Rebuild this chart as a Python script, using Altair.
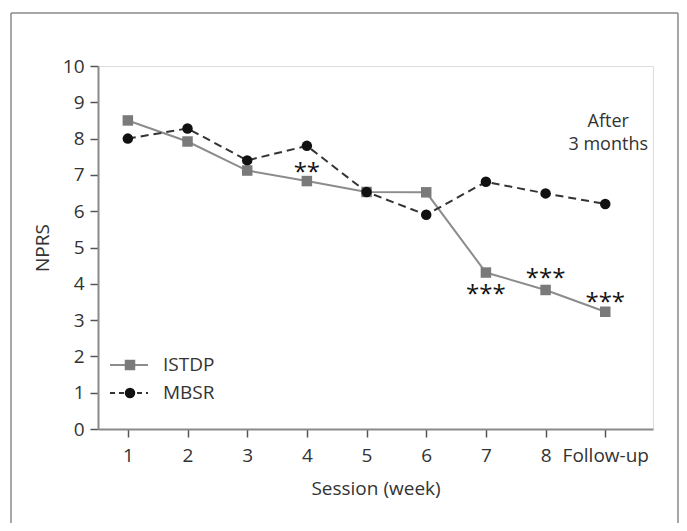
import altair as alt
import pandas as pd

sessions = [1, 2, 3, 4, 5, 6, 7, 8, 9]
tick_labels = ["1", "2", "3", "4", "5", "6", "7", "8", "Follow-up"]
istdp = [8.50, 7.92, 7.12, 6.83, 6.53, 6.52, 4.31, 3.83, 3.23]
mbsr = [8.00, 8.28, 7.40, 7.80, 6.53, 5.90, 6.81, 6.49, 6.20]
series_names = ["ISTDP", "MBSR"]
y_ticks = [0, 1, 2, 3, 4, 5, 6, 7, 8, 9, 10]

star_x = [4, 7, 8, 9]
star_y = [7.23, 3.85, 4.31, 3.64]
star_text = ["**", "***", "***", "***"]

note_x = [9, 9]
note_y = [8.47, 7.82]
note_text = ["After", "3 months"]

FONT = "Open Sans"
TXT = "#333333"

df_i = pd.DataFrame({"session": sessions, "npr": istdp, "label": tick_labels})
df_m = pd.DataFrame({"session": sessions, "npr": mbsr, "label": tick_labels})
df_star = pd.DataFrame({"session": star_x, "npr": star_y, "t": star_text})
df_note = pd.DataFrame({"session": note_x, "npr": note_y, "t": note_text})

label_expr = "datum.value == 9 ? 'Follow-up' : datum.value"

xscale = alt.Scale(domain=[0.5, 9.8], nice=False, zero=False)
yscale = alt.Scale(domain=[0, 10], nice=False)

xenc = alt.X("session:Q", scale=xscale,
             axis=alt.Axis(values=sessions, labelExpr=label_expr, title="Session (week)",
                           grid=False, domainColor="#8a8a8a", domainWidth=2,
                           tickColor="#555555", tickWidth=1.5, tickSize=8,
                           labelFont=FONT, labelFontSize=19, labelColor=TXT, labelPadding=9,
                           labelOverlap=False,
                           titleFont=FONT, titleFontSize=19, titleColor=TXT,
                           titleFontWeight="normal", titlePadding=14, labelFlush=False))
yenc = alt.Y("npr:Q", scale=yscale,
             axis=alt.Axis(values=y_ticks, tickCount=11, title="NPRS", grid=False,
                           domainColor="#8a8a8a", domainWidth=2,
                           tickColor="#555555", tickWidth=1.5, tickSize=8,
                           labelFont=FONT, labelFontSize=19, labelColor=TXT, labelPadding=6,
                           labelOverlap=False, labelFlush=False,
                           titleFont=FONT, titleFontSize=19, titleColor=TXT,
                           titleFontWeight="normal", titlePadding=10))

line_i = alt.Chart(df_i).mark_line(color="#8c8c8c", strokeWidth=2).encode(x=xenc, y=yenc)
pts_i = alt.Chart(df_i).mark_point(shape="square", filled=True, color="#7a7a7a",
                                   size=110, opacity=1).encode(x=xenc, y=yenc)
line_m = alt.Chart(df_m).mark_line(color="#333333", strokeWidth=2,
                                   strokeDash=[8, 5]).encode(x=xenc, y=yenc)
pts_m = alt.Chart(df_m).mark_point(shape="circle", filled=True, color="#111111",
                                   size=110, opacity=1).encode(x=xenc, y=yenc)

stars = alt.Chart(df_star).mark_text(font=FONT, fontSize=24, color="#111111",
                                     baseline="middle", dy=6).encode(
    x=xenc, y=yenc, text="t:N")
notes = alt.Chart(df_note).mark_text(font=FONT, fontSize=18, color=TXT,
                                     baseline="middle", dx=3).encode(
    x=xenc, y=yenc, text="t:N")

one = alt.Data(values=[{"a": 1}])
FR = "#8a8a8a"
frame_top = alt.Chart(one).mark_rule(color=FR, strokeWidth=1.5).encode(
    x=alt.value(-87), x2=alt.value(580), y=alt.value(-53))
frame_left = alt.Chart(one).mark_rule(color=FR, strokeWidth=1.5).encode(
    x=alt.value(-87), y=alt.value(-53), y2=alt.value(470))
frame_right = alt.Chart(one).mark_rule(color=FR, strokeWidth=1.5).encode(
    x=alt.value(580), y=alt.value(-53), y2=alt.value(470))

leg_layers = []
leg_y = [299, 327]
for name, yy in zip(series_names, leg_y):
    if name == "ISTDP":
        r = alt.Chart(one).mark_rule(color="#8c8c8c", strokeWidth=2).encode(
            x=alt.value(12), x2=alt.value(50), y=alt.value(yy))
        p = alt.Chart(one).mark_point(shape="square", filled=True, color="#7a7a7a",
                                      size=110, opacity=1).encode(
            x=alt.value(32), y=alt.value(yy))
    else:
        r = alt.Chart(one).mark_rule(color="#333333", strokeWidth=2,
                                     strokeDash=[5, 4]).encode(
            x=alt.value(12), x2=alt.value(50), y=alt.value(yy))
        p = alt.Chart(one).mark_point(shape="circle", filled=True, color="#111111",
                                      size=110, opacity=1).encode(
            x=alt.value(32), y=alt.value(yy))
    t = alt.Chart(one).mark_text(font=FONT, fontSize=19, color=TXT, align="left",
                                 baseline="middle").encode(
        x=alt.value(65), y=alt.value(yy), text=alt.value(name))
    leg_layers += [r, p, t]

chart = alt.layer(frame_top, frame_left, frame_right, line_i, line_m, pts_i, pts_m,
                  stars, notes, *leg_layers).properties(
    width=555, height=363,
    padding={"left": 90, "top": 58, "right": 26, "bottom": 94},
    autosize=alt.AutoSizeParams(type="none"),
).configure_view(stroke=None).configure(background="white")

chart.save("out.html", embed_options={"renderer": "svg", "actions": False})
